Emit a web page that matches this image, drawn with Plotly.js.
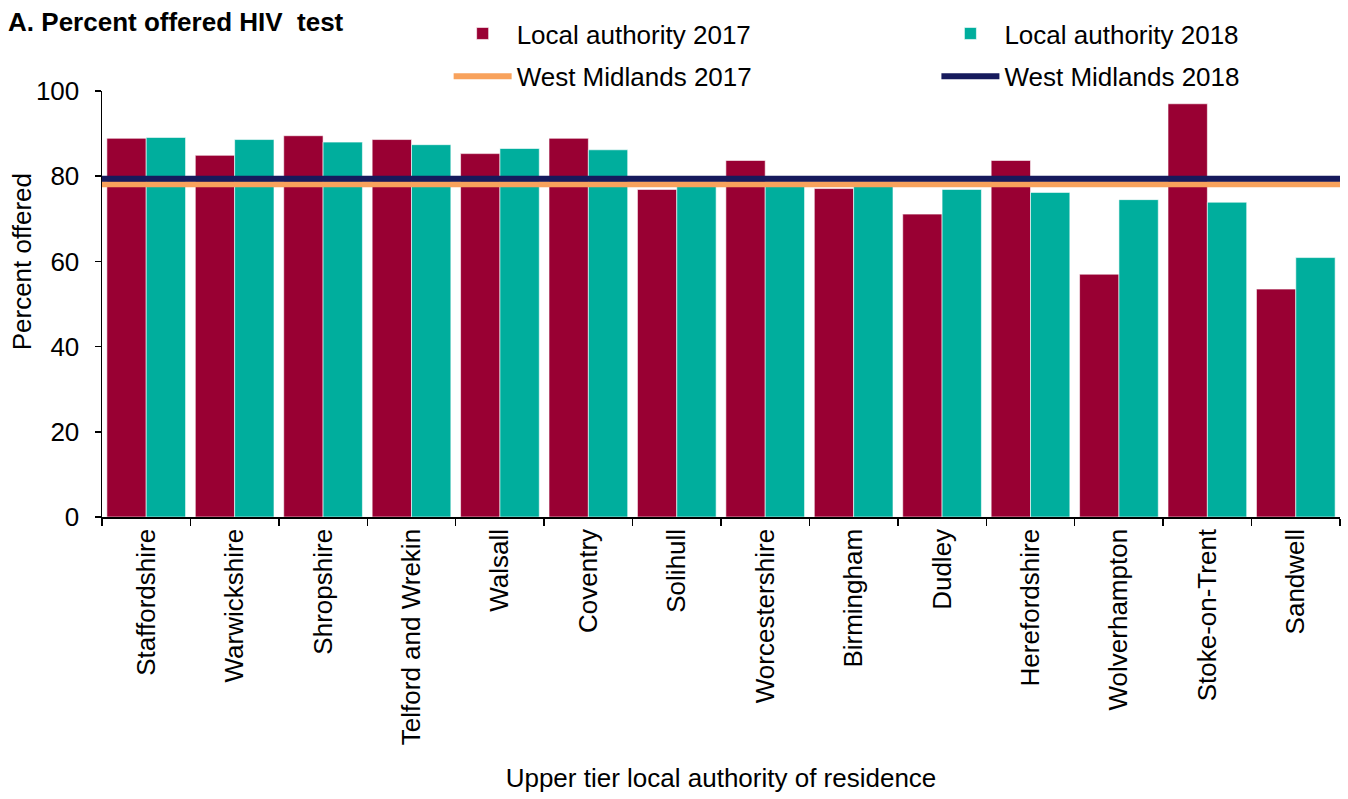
<!DOCTYPE html>
<html>
<head>
<meta charset="utf-8">
<script src="https://cdn.plot.ly/plotly-3.0.1.min.js"></script>
<style>html,body{margin:0;padding:0;background:#fff;}#chart{width:1348px;height:799px;}</style>
</head>
<body>
<div id="chart"></div>
<script>
const categories = ["Staffordshire","Warwickshire","Shropshire","Telford and Wrekin","Walsall","Coventry","Solihull","Worcestershire","Birmingham","Dudley","Herefordshire","Wolverhampton","Stoke-on-Trent","Sandwell"];
const la2017 = [88.9, 84.9, 89.5, 88.6, 85.3, 88.9, 76.9, 83.7, 77.1, 71.1, 83.7, 57.0, 97.0, 53.5];
const la2018 = [89.1, 88.6, 88.0, 87.4, 86.5, 86.2, 77.8, 77.7, 77.6, 76.9, 76.2, 74.5, 73.9, 60.9];
const wm2017 = 78.1;
const wm2018 = 79.4;
const lineSpan = [0, 1];
const seriesNames = ["Local authority 2017","Local authority 2018","West Midlands 2017","West Midlands 2018"];

const FONT = "Liberation Sans, Arial, sans-serif";

const traces = [
  {type:"bar", x:categories, y:la2017, name:seriesNames[0], legend:"legend", legendgroup:"g1",
   marker:{color:"#990033", line:{color:"#ffffff", width:0.6}}, hoverinfo:"x+y"},
  {type:"bar", x:categories, y:la2018, name:seriesNames[1], legend:"legend2", legendgroup:"g2",
   marker:{color:"#00AE9D", line:{color:"#ffffff", width:0.6}}, hoverinfo:"x+y"},
  {type:"scatter", mode:"lines", x:lineSpan, y:lineSpan.map(()=>wm2017), xaxis:"x2", name:seriesNames[2], legend:"legend", legendgroup:"g3",
   line:{color:"#F8A25C", width:6}},
  {type:"scatter", mode:"lines", x:lineSpan, y:lineSpan.map(()=>wm2018), xaxis:"x2", name:seriesNames[3], legend:"legend2", legendgroup:"g4",
   line:{color:"#161A5C", width:6}}
];

const legendCommon = {
  orientation:"v", yanchor:"top", xanchor:"left",
  font:{family:FONT, size:26, color:"#000"},
  bgcolor:"rgba(0,0,0,0)", itemwidth:58, tracegroupgap:6, traceorder:"grouped"
};

const layout = {
  width:1348, height:799,
  margin:{l:102, r:8, t:91, b:282, pad:0},
  paper_bgcolor:"#fff", plot_bgcolor:"#fff",
  font:{family:FONT, size:26, color:"#000"},
  title:{text:"<b>A. Percent offered HIV  test</b>", x:0.006, xref:"container", xanchor:"left",
         y:0.972, yref:"container", yanchor:"middle", font:{family:FONT, size:26, color:"#000"}},
  barmode:"group", bargap:0.11, bargroupgap:0,
  showlegend:true,
  legend:Object.assign({}, legendCommon, {x:0.28, y:1.19}),
  legend2:Object.assign({}, legendCommon, {x:0.674, y:1.19}),
  xaxis:{
    type:"category", showline:true, linecolor:"#000", linewidth:1.5,
    ticks:"outside", tickson:"boundaries", ticklen:7, tickwidth:1.5, tickcolor:"#000",
    tickangle:-90, tickfont:{family:FONT, size:26, color:"#000"},
    showgrid:false, zeroline:false,
    title:{text:"Upper tier local authority of residence", font:{family:FONT, size:26, color:"#000"}, standoff:24}
  },
  xaxis2:{overlaying:"x", range:[0,1], visible:false, fixedrange:true},
  yaxis:{
    range:[0,100], dtick:20, showline:true, linecolor:"#000", linewidth:1.5,
    ticks:"outside", ticklen:6, tickwidth:1.5, tickcolor:"#000", ticklabelstandoff:10,
    tickfont:{family:FONT, size:26, color:"#000"},
    showgrid:false, zeroline:false
  },
  annotations:[{
    text:"Percent offered", textangle:-90, showarrow:false,
    xref:"paper", yref:"paper", x:-0.0647, y:0.6, xanchor:"center", yanchor:"middle",
    font:{family:FONT, size:26, color:"#000"}
  }]
};

Plotly.newPlot("chart", traces, layout, {displayModeBar:false, staticPlot:true});
</script>
</body>
</html>
